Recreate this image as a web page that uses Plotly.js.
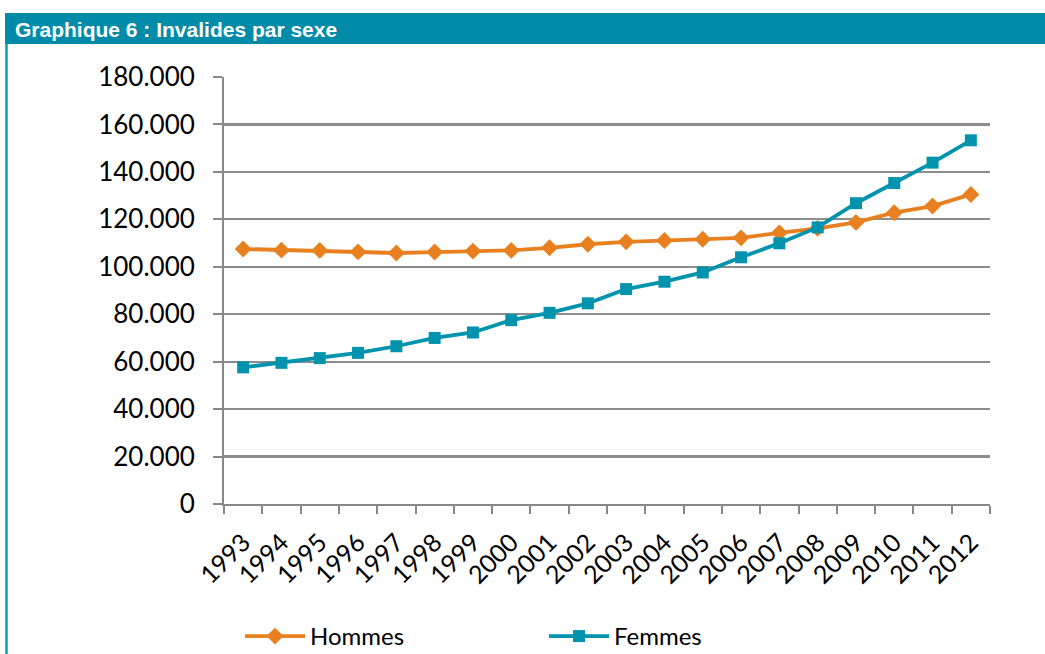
<!DOCTYPE html>
<html>
<head>
<meta charset="utf-8">
<script src="https://cdn.plot.ly/plotly-3.0.1.min.js"></script>
<style>html,body{margin:0;padding:0;background:#fff;}#chart{width:1045px;height:654px;}</style>
</head>
<body>
<div id="chart"></div>
<script>
const years = ['1993','1994','1995','1996','1997','1998','1999','2000','2001','2002','2003','2004','2005','2006','2007','2008','2009','2010','2011','2012'];
const hommes = [107500,107000,106900,106300,105800,106200,106600,106900,108000,109500,110500,111100,111600,112200,114300,116200,118700,122800,125600,130500];
const femmes = [57600,59500,61500,63700,66500,70000,72300,77500,80600,84600,90600,93700,97600,104000,109900,116600,126800,135300,143900,153300];
const yTicks = [0,20000,40000,60000,80000,100000,120000,140000,160000,180000];
const chartTitle = 'Graphique 6 : Invalides par sexe';

const W = 1045, H = 654, L = 224, R = 990, T = 77, B = 504;
const px = x => (x - L) / (R - L);
const py = y => (B - y) / (B - T);

const font = 'Lato, "Open Sans", sans-serif';
const teal = '#0093AD';
const orange = '#E9801F';

const data = [
  {x: years, y: hommes, name: 'Hommes', type: 'scatter', mode: 'lines+markers',
   line: {color: orange, width: 3.8}, marker: {symbol: 'diamond', size: 13, color: orange}},
  {x: years, y: femmes, name: 'Femmes', type: 'scatter', mode: 'lines+markers',
   line: {color: teal, width: 3.8}, marker: {symbol: 'square', size: 12, color: teal}}
];

const layout = {
  width: W, height: H,
  margin: {l: L, r: W - R, t: T, b: H - B, pad: 0, autoexpand: false},
  paper_bgcolor: '#fff', plot_bgcolor: '#fff',
  showlegend: true,
  separators: ',.',
  font: {family: font, color: '#000'},
  xaxis: {
    type: 'category', tickangle: -45, tickson: 'boundaries',
    ticks: 'outside', ticklen: 8, tickwidth: 2, tickcolor: '#888',
    showline: true, linecolor: '#888', linewidth: 2,
    showgrid: false, zeroline: false, automargin: false,
    ticklabelstandoff: 12,
    tickfont: {size: 25, family: font, color: '#000'},
    range: [-0.5, 19.5], fixedrange: true
  },
  yaxis: {
    range: [0, 180000], tickvals: yTicks, tickformat: ',d',
    ticks: 'outside', ticklen: 9, tickwidth: 2, tickcolor: '#888',
    showline: true, linecolor: '#888', linewidth: 2,
    showgrid: true, gridcolor: '#8c8c8c', gridwidth: 2.2,
    zeroline: false, ticklabelstandoff: 13, automargin: false,
    tickfont: {size: 26, family: font, color: '#000'}
  },
  legend: {
    orientation: 'h', x: px(240), y: py(614), xanchor: 'left', yanchor: 'top',
    entrywidth: 229, entrywidthmode: 'pixels',
    font: {size: 24, family: font, color: '#000'}, itemwidth: 60,
    bgcolor: 'rgba(0,0,0,0)', tracegroupgap: 0
  },
  shapes: [
    {type: 'rect', xref: 'paper', yref: 'paper', x0: px(5), x1: px(1046), y0: py(44), y1: py(13),
     fillcolor: '#008CA9', line: {width: 0}, layer: 'below'},
    {type: 'line', xref: 'paper', yref: 'paper', x0: px(6.5), x1: px(6.5), y0: py(44), y1: py(660),
     line: {color: '#0A9DBB', width: 2.5}}
  ],
  annotations: [
    {xref: 'paper', yref: 'paper', x: px(13), y: py(29), xanchor: 'left', yanchor: 'middle',
     text: '<b>' + chartTitle + '</b>', showarrow: false,
     font: {family: 'Liberation Sans, Arial, sans-serif', size: 21, color: '#fff'}}
  ]
};

Plotly.newPlot('chart', data, layout, {displayModeBar: false, staticPlot: true});
</script>
</body>
</html>
